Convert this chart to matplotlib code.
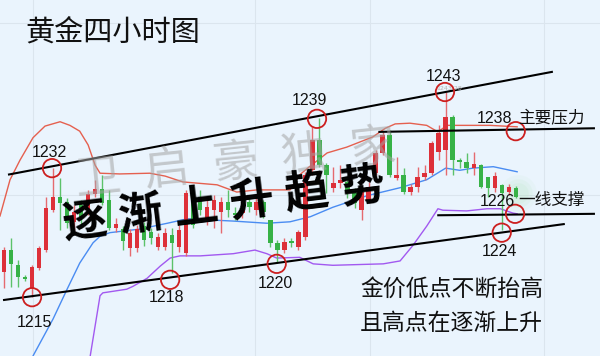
import matplotlib
matplotlib.use('Agg')
import matplotlib.pyplot as plt
import numpy as np

plt.rcParams['font.family'] = ['Noto Sans CJK SC', 'DejaVu Sans']

# ---------------- data (gold, 4-hour candles) ----------------
open_ = [1218.2, 1221.2, 1219.1, 1217.5, 1216.0, 1218.7, 1221.2, 1226.7, 1228.5, 1227.8,
         1225.1, 1227.4, 1226.9, 1228.9, 1229.6, 1228.1, 1224.2, 1224.1, 1221.5, 1221.5,
         1224.5, 1223.7, 1221.6, 1221.6, 1223.3, 1221.6, 1220.8, 1229.1, 1228.5, 1225.3,
         1226.7, 1226.4, 1227.8, 1226.3, 1226.3, 1227.8, 1226.7, 1227.8, 1225.3, 1222.2,
         1221.2, 1222.3, 1221.6, 1223.0, 1232.2, 1236.4, 1232.9, 1229.8, 1230.4, 1230.6,
         1229.1, 1226.7, 1228.1, 1231.8, 1234.6, 1237.1, 1231.1, 1231.6, 1229.2, 1229.9,
         1231.3, 1231.8, 1234.7, 1235.0, 1239.6, 1233.6, 1233.3, 1232.5, 1232.9, 1231.3,
         1229.8, 1230.2, 1229.2, 1229.8]
high = [1221.6, 1222.9, 1219.8, 1217.8, 1219.1, 1221.8, 1228.5, 1232.5, 1231.1, 1228.4,
        1227.4, 1228.1, 1229.5, 1230.9, 1231.6, 1229.5, 1225.6, 1224.5, 1224.1, 1224.7,
        1225.1, 1224.2, 1223.6, 1224.2, 1224.2, 1224.7, 1229.5, 1229.5, 1229.5, 1228.1,
        1228.8, 1228.5, 1229.5, 1227.1, 1227.4, 1228.5, 1228.4, 1228.1, 1225.3, 1222.6,
        1222.9, 1222.9, 1224.0, 1232.0, 1238.2, 1239.4, 1233.2, 1232.7, 1232.9, 1231.1,
        1229.8, 1229.8, 1230.6, 1235.0, 1237.5, 1237.8, 1234.0, 1232.5, 1230.3, 1232.7,
        1232.9, 1236.3, 1238.4, 1243.0, 1239.8, 1233.9, 1234.6, 1234.7, 1233.1, 1231.3,
        1232.0, 1230.3, 1230.3, 1230.0]
low = [1216.0, 1216.1, 1216.1, 1216.9, 1214.7, 1218.4, 1220.9, 1226.4, 1224.0, 1224.2,
       1223.7, 1224.7, 1226.0, 1228.5, 1227.4, 1224.0, 1223.7, 1221.2, 1220.4, 1220.9,
       1221.8, 1222.0, 1221.2, 1221.2, 1218.0, 1220.9, 1220.4, 1224.2, 1226.0, 1224.7,
       1224.2, 1223.6, 1225.8, 1225.3, 1225.6, 1226.4, 1226.0, 1225.6, 1221.6, 1219.6,
       1220.8, 1221.6, 1221.2, 1222.6, 1231.6, 1232.7, 1229.1, 1229.2, 1229.8, 1228.4,
       1227.0, 1225.3, 1227.7, 1231.6, 1234.3, 1231.3, 1230.9, 1228.9, 1228.8, 1229.2,
       1230.9, 1231.6, 1233.6, 1231.6, 1231.6, 1232.5, 1231.8, 1231.6, 1229.8, 1228.5,
       1229.2, 1224.0, 1228.8, 1228.4]
close = [1221.2, 1219.3, 1217.5, 1217.2, 1218.9, 1221.5, 1227.0, 1228.5, 1227.7, 1224.9,
         1226.4, 1225.6, 1228.9, 1229.6, 1227.7, 1224.2, 1224.8, 1222.4, 1223.6, 1224.1,
         1222.6, 1222.9, 1223.0, 1223.6, 1222.2, 1224.0, 1229.1, 1224.7, 1226.7, 1227.1,
         1228.1, 1227.8, 1226.7, 1226.0, 1226.7, 1227.1, 1227.8, 1226.4, 1222.2, 1221.2,
         1222.3, 1222.2, 1223.7, 1231.6, 1236.4, 1232.9, 1231.6, 1230.4, 1230.9, 1229.2,
         1227.7, 1229.2, 1229.9, 1234.6, 1237.1, 1231.6, 1231.6, 1229.2, 1229.9, 1231.3,
         1231.8, 1236.0, 1237.3, 1239.6, 1233.6, 1233.3, 1232.5, 1233.1, 1229.9, 1229.8,
         1231.4, 1229.1, 1229.9, 1228.5]

# Bollinger bands (bar index, price)
upper_x = [-0.57, 0.86, 2.28, 4.14, 5.85, 8.0, 9.4, 10.8, 12.0, 13.0, 13.7, 16.5, 20.8,
           23.0, 25.5, 30.4, 33.2, 36.1, 40.8, 42.2, 43.7, 46.1, 48.9, 52.6, 54.4, 55.8,
           57.9, 60.3, 61.9, 63.2, 65.0, 69.3, 73.2]
upper_y = [1225.9, 1230.9, 1233.6, 1236.7, 1238.3, 1238.9, 1238.4, 1237.6, 1235.7, 1232.9,
           1231.8, 1231.7, 1231.8, 1231.4, 1230.6, 1230.2, 1229.2, 1229.5, 1229.5, 1231.6,
           1232.8, 1234.6, 1235.4, 1236.8, 1238.0, 1238.6, 1238.7, 1238.4, 1237.5, 1238.4,
           1238.4, 1238.4, 1238.2]
mid_x = [3.0, 4.14, 7.0, 9.0, 10.8, 12.7, 13.7, 15.1, 19.4, 23.3, 26.1, 32.7, 37.5, 40.8,
         43.7, 46.9, 51.8, 56.5, 60.3, 63.0, 65.0, 66.9, 69.8, 73.2]
mid_y = [1200.5, 1206.6, 1211.7, 1215.8, 1219.4, 1222.2, 1223.1, 1223.6, 1224.1, 1224.9,
         1225.5, 1225.2, 1224.9, 1225.1, 1225.8, 1227.1, 1228.7, 1229.8, 1230.9, 1232.5,
         1232.2, 1232.5, 1232.7, 1232.0]
lower_x = [11.6, 12.3, 13.7, 14.1, 17.5, 18.4, 20.4, 22.3, 23.7, 25.1, 28.0, 32.7, 35.8,
           37.5, 38.9, 42.2, 44.1, 46.9, 54.1, 56.5, 58.3, 60.3, 61.9, 62.6, 66.0, 68.9,
           70.8, 72.6, 73.2]
lower_y = [1197.8, 1206.6, 1214.9, 1215.3, 1215.8, 1216.2, 1217.3, 1219.0, 1220.1, 1220.4,
           1220.4, 1220.7, 1221.2, 1220.7, 1220.1, 1220.2, 1219.3, 1219.1, 1219.3, 1219.7,
           1221.8, 1224.5, 1226.9, 1226.7, 1226.6, 1226.9, 1226.9, 1226.3, 1226.2]

# Trend / support / resistance lines (start, end)
line_x = [[0.57, 78.3], [-0.14, 80.0], [53.4, 84.3], [61.8, 84.3]]
line_y = [[1231.6, 1245.8], [1214.3, 1224.8], [1237.5, 1238.0], [1226.0, 1226.2]]

# Marked points
mark_labels = ['1215', '1232', '1218', '1220', '1239', '1243', '1238', '1226', '1224']
mark_x = [4.0, 6.85, 23.7, 38.9, 44.65, 62.9, 73.0, 72.9, 71.0]
mark_y = [1214.7, 1232.5, 1217.1, 1219.3, 1239.3, 1243.0, 1237.6, 1226.2, 1223.6]
mark_dx = [2, -3, -4, -1, -8, -1, -21, -18, -2]      # label offset, px
mark_dy = [25, -16, 18, 20, -18, -16, -13, -12, 19]  # label offset, px (down +)

title = '黄金四小时图'
slogan = '逐渐上升趋势'
watermark = '卫启豪独家'
note1 = '金价低点不断抬高'
note2 = '且高点在逐渐上升'
res_text = '主要压力'
sup_text = '一线支撑'
high_tag = '1243.28'

# ---------------- figure ----------------
W, H = 600, 356
bg = '#eaf4fd'
fig = plt.figure(figsize=(6.0, 3.56), dpi=100, facecolor=bg)
ax = fig.add_axes([0, 0, 1, 1], facecolor=bg)
ax.set_xlim(-0.5706, 85.02)
ax.set_ylim(1206.59, 1255.69)
for s in ax.spines.values():
    s.set_visible(False)
ax.set_xticks([4.14, 35.8, 52.2, 77.0])
ax.set_yticks([1252.5, 1228.8])
ax.tick_params(length=0, labelbottom=False, labelleft=False)
ax.grid(True, color='#dbe5ee', lw=0.8)
ax.set_axisbelow(True)

def fx(px):
    return px / W

def fy(py):
    return 1 - py / H

# bands
ax.plot(upper_x, upper_y, color='#e5604f', lw=1.0, zorder=2)
ax.plot(mid_x, mid_y, color='#4a8cf2', lw=1.0, zorder=2)
ax.plot(lower_x, lower_y, color='#a259f0', lw=1.0, zorder=2)

# candles
idx = np.arange(len(open_))
o = np.array(open_); c = np.array(close); h = np.array(high); l = np.array(low)
up = c >= o
red, green = '#dd3039', '#37b247'
cols = np.where(up, red, green)
wcols = np.where(up, '#e56a6f', '#5cc26a')
ax.vlines(idx, l, h, colors=wcols, lw=1.0, zorder=3)
bottom = np.minimum(o, c)
height = np.maximum(np.abs(c - o), 0.2)
ax.bar(idx, height, bottom=bottom, width=0.62, color=cols, lw=0, zorder=4)

# glow on latest candle
for s_, a_ in [(700, 0.05), (420, 0.07), (220, 0.08)]:
    ax.scatter([idx[-1] + 0.3], [c[-1] + 0.6], s=s_, color='#8fe08f', alpha=a_,
               lw=0, zorder=2.5)

# black lines
for xs, ys in zip(line_x, line_y):
    ax.plot(xs, ys, color='black', lw=1.5, zorder=5, solid_capstyle='butt')

# circles and labels
ax.scatter(mark_x, mark_y, s=175, facecolors='none', edgecolors='#cc1f1f',
           linewidths=1.3, zorder=7)
for lab, x, y, dx, dy in zip(mark_labels, mark_x, mark_y, mark_dx, mark_dy):
    ax.annotate(lab, (x, y), xytext=(dx * 0.72, -dy * 0.72), textcoords='offset points',
                ha='center', va='center', fontsize=11.5, family='Liberation Sans',
                color='#111111', zorder=8)
ax.text(fx(449), fy(89), high_tag, transform=ax.transAxes, fontsize=4.5,
        color='#b0b0b0', ha='center', va='center', family='DejaVu Sans', zorder=6)

ax.text(fx(518), fy(118), res_text, transform=ax.transAxes, fontsize=12,
        ha='left', va='center', color='#111111', zorder=8)
ax.text(fx(518), fy(200), sup_text, transform=ax.transAxes, fontsize=12,
        ha='left', va='center', color='#111111', zorder=8)

# title
ax.text(fx(25), fy(33), title, transform=ax.transAxes, fontsize=21,
        ha='left', va='center', color='#111111', zorder=8)

# watermark
for k, ch in enumerate(watermark):
    ax.text(fx(98 + 68.5 * k), fy(178 - 7.5 * k), ch, transform=ax.transAxes,
            fontsize=33, rotation=6, ha='center', va='center', color='#a4a4a4',
            alpha=0.55, zorder=6)

# slogan
for k, ch in enumerate(slogan):
    ax.text(fx(85 + 55.4 * k), fy(222 - 7 * k), ch, transform=ax.transAxes,
            fontsize=32, rotation=7, ha='center', va='center', color='black',
            fontweight='bold', zorder=9)

# notes
ax.text(fx(360), fy(289), note1, transform=ax.transAxes, fontsize=16.5,
        ha='left', va='center', color='#111111', zorder=8)
ax.text(fx(360), fy(323), note2, transform=ax.transAxes, fontsize=16.5,
        ha='left', va='center', color='#111111', zorder=8)

fig.savefig('out.png', dpi=100, facecolor=bg)
